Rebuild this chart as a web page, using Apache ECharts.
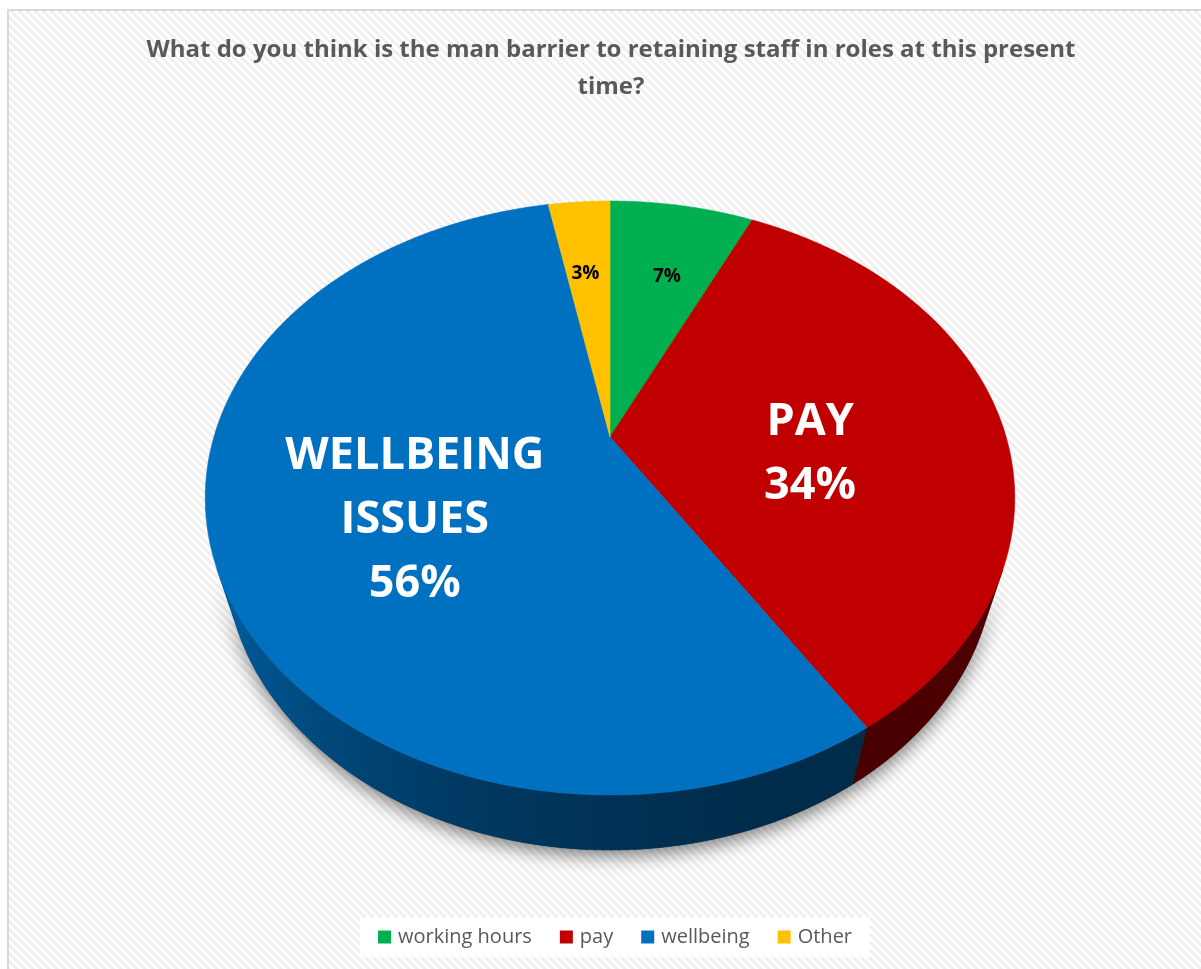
<!DOCTYPE html>
<html>
<head>
<meta charset="utf-8">
<script src="https://cdn.jsdelivr.net/npm/echarts@6/dist/echarts.min.js"></script>
<style>
  html, body { margin: 0; padding: 0; background: #ffffff; }
  #chart { width: 1201px; height: 969px; }
</style>
</head>
<body>
<div id="chart"></div>
<script>
// ---- data ----
const categories = ['working hours', 'pay', 'wellbeing', 'Other'];
const values = [7, 34, 56, 3];
const sliceLabels = ['', 'PAY', 'WELLBEING\nISSUES', ''];
const colors = ['#00b050', '#c00000', '#0070c0', '#ffc000'];
const titleText = 'What do you think is the man barrier to retaining staff in roles at this present\ntime?';

// ---- perspective camera for the tilted pie ----
const CX = 610, CY = 437;          // screen position of the pie's centre
const FOCAL = 1342;                // focal length in px
const DIST = 3.388;                // camera distance (pie radius = 1)
const TILT = 45.9 * Math.PI / 180; // camera elevation
const THICK = 0.2325;              // pie thickness
const cT = Math.cos(TILT), sT = Math.sin(TILT);

function project(X, Y, Z) {
  const v = Y * cT - Z * sT;
  const depth = DIST - (Z * cT + Y * sT);
  return [CX + FOCAL * X / depth, CY - FOCAL * v / depth];
}
function rimPoint(theta, r, Y) {
  return project(r * Math.sin(theta), Y, -r * Math.cos(theta));
}
function arc(a0, a1, r, Y) {
  const n = Math.max(2, Math.ceil((a1 - a0) / (Math.PI / 360)));
  const pts = [];
  for (let j = 0; j <= n; j++) pts.push(rimPoint(a0 + (a1 - a0) * j / n, r, Y));
  return pts;
}

const total = values.reduce((a, b) => a + b, 0);
function sliceAngles(i) {
  let acc = 0;
  for (let k = 0; k < i; k++) acc += values[k];
  return [acc / total * 2 * Math.PI, (acc + values[i]) / total * 2 * Math.PI];
}

// the outer wall faces the camera where cos(theta) < -1 / (DIST * cos(tilt))
const visMin = Math.acos(-1 / (DIST * cT));
const visMax = 2 * Math.PI - visMin;

function wallRange(a0, a1) {
  const lo = Math.max(a0, visMin), hi = Math.min(a1, visMax);
  return hi > lo ? [lo, hi] : null;
}
function wallPoints(lo, hi) {
  return arc(lo, hi, 1, 0).concat(arc(lo, hi, 1, -THICK).reverse());
}

// side shading: darkest facing front-right, lighter toward the left
function shadeFactor(theta) {
  const g = (1 - Math.cos(theta - 150 * Math.PI / 180)) / 2;
  return Math.min(1, 0.38 + 0.86 * g);
}
function scaleColor(hex, f) {
  const n = parseInt(hex.slice(1), 16);
  const r = Math.round(((n >> 16) & 255) * f);
  const g = Math.round(((n >> 8) & 255) * f);
  const b = Math.round((n & 255) * f);
  return 'rgb(' + r + ',' + g + ',' + b + ')';
}
function wallGradient(i, lo, hi) {
  const p0 = rimPoint(lo, 1, 0), p1 = rimPoint(hi, 1, 0);
  const stops = [];
  const n = 8;
  for (let j = 0; j <= n; j++) {
    const t = lo + (hi - lo) * j / n;
    const x = rimPoint(t, 1, 0)[0];
    const off = (p1[0] === p0[0]) ? j / n : (x - p0[0]) / (p1[0] - p0[0]);
    stops.push({ offset: Math.max(0, Math.min(1, off)), color: scaleColor(colors[i], shadeFactor(t)) });
  }
  return new echarts.graphic.LinearGradient(p0[0], 0, p1[0], 0, stops, true);
}

// ---- striped chart-area background ----
function stripeTile() {
  const s = 8;
  const c = document.createElement('canvas');
  c.width = s; c.height = s;
  const ctx = c.getContext('2d');
  ctx.fillStyle = '#ffffff';
  ctx.fillRect(0, 0, s, s);
  ctx.strokeStyle = '#eeeeee';
  ctx.lineWidth = 2.6;
  for (let k = -1; k <= 1; k++) {
    ctx.beginPath();
    ctx.moveTo(-2, -2 + k * s);
    ctx.lineTo(s + 2, s + 2 + k * s);
    ctx.stroke();
  }
  return c;
}

const chart = echarts.init(document.getElementById('chart'), null, { renderer: 'canvas' });

const option = {
  backgroundColor: '#ffffff',
  animation: false,
  graphic: [{
    type: 'rect',
    z: -10,
    silent: true,
    shape: { x: 8, y: 10, width: 1300, height: 1000 },
    style: {
      fill: { image: stripeTile(), repeat: 'repeat' },
      stroke: '#d9d9d9',
      lineWidth: 2
    }
  }],
  title: {
    text: titleText,
    left: 611,
    top: 32,
    padding: 0,
    textAlign: 'center',
    textStyle: {
      fontFamily: 'Open Sans',
      fontWeight: 'bold',
      fontSize: 24,
      lineHeight: 37,
      color: '#595959'
    }
  },
  legend: {
    data: categories,
    left: 360,
    top: 917,
    icon: 'rect',
    itemWidth: 13,
    itemHeight: 13,
    itemGap: 28,
    padding: [10, 18],
    backgroundColor: '#ffffff',
    selectedMode: false,
    textStyle: { fontFamily: 'Open Sans', fontSize: 20, color: '#595959', padding: [0, 0, 0, 2] }
  },
  series: [
    {
      // legend source for the four categories
      type: 'pie',
      silent: true,
      radius: [0, 0],
      center: [CX, CY],
      label: { show: false },
      labelLine: { show: false },
      data: categories.map((name, i) => ({ name, value: values[i], itemStyle: { color: colors[i] } }))
    },
    {
      // outer walls of the pie
      type: 'custom',
      coordinateSystem: 'none',
      silent: true,
      z: 3,
      data: values,
      renderItem: function (params) {
        const i = params.dataIndex;
        const children = [];
        if (i === 0) {
          const body = wallPoints(visMin, visMax);
          children.push({
            type: 'polygon',
            shape: { points: body },
            style: {
              fill: '#3a3a3a',
              shadowBlur: 18,
              shadowOffsetY: 6,
              shadowColor: 'rgba(0,0,0,0.5)'
            }
          });
        }
        const [a0, a1] = sliceAngles(i);
        const range = wallRange(a0, a1);
        if (range) {
          const grad = wallGradient(i, range[0], range[1]);
          children.push({
            type: 'polygon',
            shape: { points: wallPoints(range[0], range[1]) },
            style: { fill: grad, stroke: grad, lineWidth: 0.6 }
          });
        }
        return { type: 'group', children };
      }
    },
    {
      // top faces and labels
      type: 'custom',
      coordinateSystem: 'none',
      silent: true,
      z: 4,
      data: values,
      renderItem: function (params) {
        const i = params.dataIndex;
        const [a0, a1] = sliceAngles(i);
        const pts = [project(0, 0, 0)].concat(arc(a0, a1, 1, 0));
        const pct = Math.round(values[i] / total * 100);
        const big = pct >= 10;
        const mid = (a0 + a1) / 2;
        const lr = big ? 0.52 : 0.775;
        const lp = project(lr * Math.sin(mid), -THICK * 0.42, -lr * Math.cos(mid));
        const text = sliceLabels[i] ? sliceLabels[i] + '\n' + pct + '%' : pct + '%';
        return {
          type: 'group',
          children: [
            {
              type: 'polygon',
              shape: { points: pts },
              style: { fill: colors[i], stroke: colors[i], lineWidth: 0.6 }
            },
            {
              type: 'text',
              z2: 100,
              x: lp[0],
              y: lp[1],
              style: {
                text: text,
                fill: big ? '#ffffff' : '#000000',
                fontFamily: 'Open Sans',
                fontWeight: 'bold',
                fontSize: big ? 45 : 19,
                lineHeight: big ? 64 : 24,
                align: 'center',
                verticalAlign: 'middle'
              }
            }
          ]
        };
      }
    }
  ]
};

chart.setOption(option);
</script>
</body>
</html>
